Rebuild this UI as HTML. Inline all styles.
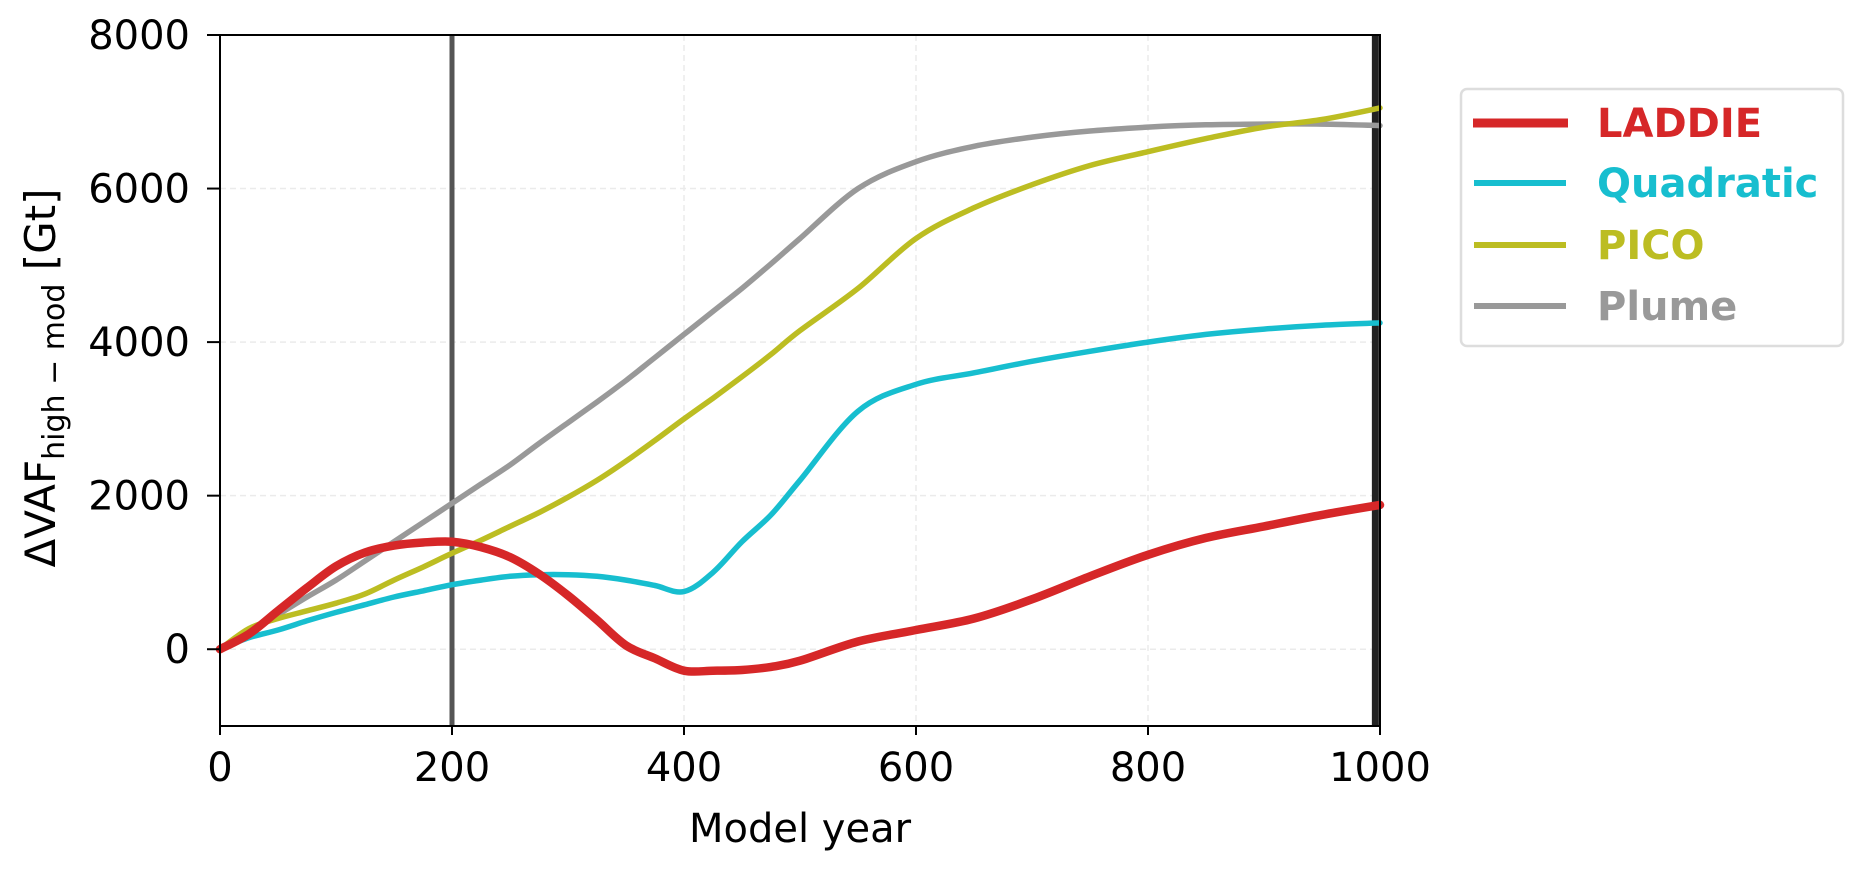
<!DOCTYPE html>
<html><head><meta charset="utf-8"><style>
body{margin:0;background:#fff;font-family:"DejaVu Sans","Liberation Sans",sans-serif}
svg text{font-family:"DejaVu Sans","Liberation Sans",sans-serif}
</style></head><body>
<svg id="c" width="1863" height="872"></svg>
<script>
const years=[0,25,50,75,100,125,150,175,200,225,250,275,300,325,350,375,400,425,450,475,500,550,600,650,700,750,800,850,900,950,1000];
const laddie=[0,200,500,800,1080,1260,1350,1390,1400,1330,1200,980,700,380,50,-120,-280,-280,-270,-230,-150,100,250,400,650,950,1230,1450,1600,1750,1880];
const quadratic=[0,150,250,370,480,580,680,760,840,900,950,970,970,950,900,830,750,1000,1400,1750,2200,3100,3450,3600,3750,3880,4000,4100,4170,4220,4250];
const pico=[0,270,400,500,600,720,900,1070,1250,1420,1600,1780,1980,2200,2450,2720,3000,3270,3550,3840,4150,4700,5350,5750,6050,6300,6480,6650,6800,6900,7050];
const plume=[0,220,450,680,900,1150,1400,1650,1900,2150,2400,2680,2950,3220,3500,3800,4100,4400,4700,5020,5350,6000,6350,6550,6670,6750,6800,6830,6840,6840,6820];
const xTicks=[0,200,400,600,800,1000];
const yTicks=[0,2000,4000,6000,8000];
const L=220,R=1380,T=35,B=726;
const X=v=>L+v/1000*(R-L);
const Y=v=>B-(v+1000)/9000*(B-T);
const svg=document.getElementById('c');
const NS='http://www.w3.org/2000/svg';
function mk(t,a,p){const e=document.createElementNS(NS,t);for(const k in a)e.setAttribute(k,a[k]);(p||svg).appendChild(e);return e;}
xTicks.forEach(v=>{if(v>0&&v<1000){const g=mk('line',{x1:X(v),x2:X(v),y1:T,y2:B,stroke:'#ebebeb','stroke-width':1.5,'stroke-dasharray':'6,4'});

}});
yTicks.forEach(v=>{const g=mk('line',{x1:L,x2:R,y1:Y(v),y2:Y(v),stroke:'#ebebeb','stroke-width':1.5,'stroke-dasharray':'6,4'});

});
let m1=mk('line',{x1:X(200),x2:X(200),y1:T,y2:B,stroke:'#555','stroke-width':5});


let m2=mk('line',{x1:X(996),x2:X(996),y1:T,y2:B,stroke:'#222','stroke-width':7});


function series(vals,col,w,name){
const pts=vals.map((v,i)=>[X(years[i]),Y(v)]);
let d='M'+pts[0][0]+','+pts[0][1];
for(let i=0;i<pts.length-1;i++){const p0=pts[Math.max(0,i-1)],p1=pts[i],p2=pts[i+1],p3=pts[Math.min(pts.length-1,i+2)];
const c1=[p1[0]+(p2[0]-p0[0])/6,p1[1]+(p2[1]-p0[1])/6],c2=[p2[0]-(p3[0]-p1[0])/6,p2[1]-(p3[1]-p1[1])/6];
d+='C'+c1[0].toFixed(1)+','+c1[1].toFixed(1)+' '+c2[0].toFixed(1)+','+c2[1].toFixed(1)+' '+p2[0].toFixed(1)+','+p2[1].toFixed(1);}
const p=mk('path',{d:d,fill:'none',stroke:col,'stroke-width':w,'stroke-linejoin':'round','stroke-linecap':'round'});

}
series(plume,'#999999',5.5,'plume-line');
series(pico,'#bcbd22',5.5,'pico-line');
series(quadratic,'#17becf',5.5,'quadratic-line');
series(laddie,'#d62728',8.5,'laddie-line');
const ax=mk('rect',{x:L,y:T,width:R-L,height:B-T,fill:'none',stroke:'#000','stroke-width':2});


xTicks.forEach(v=>{mk('line',{x1:X(v),x2:X(v),y1:B,y2:B+9,stroke:'#000','stroke-width':2});
const t=mk('text',{x:X(v),y:B+55,'text-anchor':'middle','font-size':40});t.textContent=v;

});
yTicks.forEach(v=>{mk('line',{x1:L-13,x2:L,y1:Y(v),y2:Y(v),stroke:'#000','stroke-width':2});
const t=mk('text',{x:L-30,y:Y(v)+14,'text-anchor':'end','font-size':40});t.textContent=v;

});
</script>
<svg style="position:absolute;left:0;top:0" width="1863" height="872">
<text x="800" y="842" text-anchor="middle" font-size="40">Model year</text>
<text transform="translate(55,378) rotate(-90)" text-anchor="middle" font-size="42">ΔVAF<tspan font-size="30" dy="9">high − mod</tspan><tspan dy="-9"> [Gt]</tspan></text>
<g>
<rect x="1461" y="89" width="382" height="257" rx="6" fill="#fff" stroke="#ddd" stroke-width="2.5"/>
<line x1="1473" x2="1568" y1="123" y2="123" stroke="#d62728" stroke-width="9"/>
<text x="1597" y="137" font-size="40" font-weight="bold" fill="#d62728">LADDIE</text>
<line x1="1474" x2="1566" y1="183" y2="183" stroke="#17becf" stroke-width="6"/>
<text x="1597" y="197" font-size="40" font-weight="bold" fill="#17becf">Quadratic</text>
<line x1="1474" x2="1566" y1="245" y2="245" stroke="#bcbd22" stroke-width="6"/>
<text x="1597" y="259" font-size="40" font-weight="bold" fill="#bcbd22">PICO</text>
<line x1="1474" x2="1566" y1="306" y2="306" stroke="#999" stroke-width="6"/>
<text x="1597" y="320" font-size="40" font-weight="bold" fill="#999">Plume</text>
</g>
</svg>
</body></html>
